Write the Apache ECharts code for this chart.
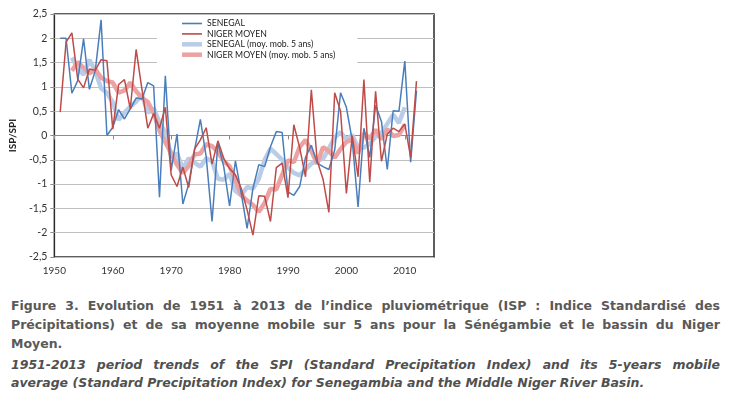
<!DOCTYPE html>
<html>
<head>
<meta charset="utf-8">
<script src="https://cdn.jsdelivr.net/npm/echarts@6/dist/echarts.min.js"></script>
<style>
  html, body { margin: 0; padding: 0; background: #fff; }
  #wrap { position: relative; width: 744px; height: 398px; overflow: hidden; }
  #chart { position: absolute; left: 0; top: 0; width: 744px; height: 290px; }
  .cap { position: absolute; left: 11px; width: 709px; font-size: 12.5px; line-height: 15px; color: #595959;
         font-family: "DejaVu Sans", sans-serif; font-weight: bold;
         text-align: justify; text-align-last: justify; white-space: nowrap; }
  .i { font-style: italic; color: #505050; }
  .last { text-align-last: left; }
</style>
</head>
<body>
<div id="wrap">
  <div id="chart"></div>
  <div class="cap" style="top:298px">Figure 3. Evolution de 1951 à 2013 de l’indice pluviométrique (ISP : Indice Standardisé des</div>
  <div class="cap" style="top:317px">Précipitations) et de sa moyenne mobile sur 5 ans pour la Sénégambie et le bassin du Niger</div>
  <div class="cap last" style="top:336px">Moyen.</div>
  <div class="cap i" style="top:357px">1951-2013 period trends of the SPI (Standard Precipitation Index) and its 5-years mobile</div>
  <div class="cap i last" style="top:375px">average (Standard Precipitation Index) for Senegambia and the Middle Niger River Basin.</div>
</div>
<script>
// ---- data ----
const years = [1951,1952,1953,1954,1955,1956,1957,1958,1959,1960,1961,1962,1963,1964,1965,1966,1967,1968,1969,1970,
  1971,1972,1973,1974,1975,1976,1977,1978,1979,1980,1981,1982,1983,1984,1985,1986,1987,1988,1989,1990,
  1991,1992,1993,1994,1995,1996,1997,1998,1999,2000,2001,2002,2003,2004,2005,2006,2007,2008,2009,2010,2011,2012];
const senegal = [2.00,2.00,0.87,1.13,1.99,0.95,1.33,2.38,0.00,0.17,0.53,0.34,0.55,0.77,0.75,1.09,1.02,-1.27,1.23,-0.72,
  0.03,-1.41,-1.00,-0.30,0.33,-0.44,-1.77,-0.15,-0.64,-1.45,-0.52,-1.19,-1.91,-1.09,-0.60,-0.64,-0.23,0.08,0.06,-1.16,
  -1.23,-1.05,-0.45,-0.20,-0.57,-0.64,-0.70,-0.30,0.88,0.58,-0.10,-1.47,0.15,-0.45,0.62,0.29,-0.70,0.51,0.50,1.53,-0.55,0.92];
const niger = [0.48,1.92,2.11,1.16,0.98,1.37,1.34,1.56,1.54,0.13,1.05,1.15,0.55,1.77,0.95,0.15,0.45,0.15,0.58,-0.81,
  -1.05,-0.65,-1.07,-0.28,-0.09,0.16,-0.59,-0.11,-0.47,-0.68,-0.81,-1.09,-1.53,-2.05,-1.24,-1.25,-1.77,-0.66,-0.57,-1.28,
  0.22,-0.25,-0.85,0.94,-0.52,-0.90,-1.58,0.88,0.50,-1.19,0.00,-0.85,1.15,-0.96,0.91,-0.53,0.03,0.15,0.08,0.24,-0.45,1.12];
const maYears = [1953,1954,1955,1956,1957,1958,1959,1960,1961,1962,1963,1964,1965,1966,1967,1968,1969,1970,
  1971,1972,1973,1974,1975,1976,1977,1978,1979,1980,1981,1982,1983,1984,1985,1986,1987,1988,1989,1990,
  1991,1992,1993,1994,1995,1996,1997,1998,1999,2000,2001,2002,2003,2004,2005,2006,2007,2008,2009,2010];
const senegalMA = [1.60,1.39,1.25,1.56,1.33,0.97,0.88,0.68,0.32,0.47,0.59,0.70,0.84,0.47,0.56,0.27,0.06,-0.43,
  -0.37,-0.68,-0.47,-0.56,-0.64,-0.47,-0.53,-0.89,-0.91,-0.79,-1.14,-1.23,-1.06,-1.09,-0.89,-0.50,-0.27,-0.38,-0.50,-0.66,
  -0.77,-0.82,-0.70,-0.58,-0.51,-0.48,-0.27,-0.04,0.07,-0.08,0.01,-0.26,-0.25,-0.17,-0.02,0.05,0.24,0.43,0.26,0.58];
const nigerMA = [1.33,1.51,1.39,1.28,1.36,1.19,1.12,1.09,0.88,0.93,1.09,0.91,0.77,0.69,0.46,0.10,-0.14,-0.36,
  -0.60,-0.77,-0.63,-0.39,-0.37,-0.18,-0.22,-0.34,-0.53,-0.63,-0.92,-1.23,-1.34,-1.43,-1.57,-1.39,-1.10,-1.11,-0.81,-0.51,
  -0.55,-0.24,-0.09,-0.32,-0.58,-0.24,-0.32,-0.46,-0.28,-0.13,-0.08,-0.37,0.05,-0.06,0.12,-0.08,0.13,-0.01,0.01,0.23];
const seriesNames = ['SENEGAL','NIGER MOYEN','SENEGAL (moy. mob. 5 ans)','NIGER MOYEN (moy. mob. 5 ans)'];
const yTicks = [-2.5,-2,-1.5,-1,-0.5,0,0.5,1,1.5,2,2.5];
const xTicks = [1950,1960,1970,1980,1990,2000,2010];

const pairs = (xs, ys) => xs.map((x, i) => [x, ys[i]]);
const chart = echarts.init(document.getElementById('chart'), null, {renderer: 'canvas'});
const fontLbl = 'Lato, "Liberation Sans", sans-serif';
const thinIcon = 'path://M0,0h20v1.6h-20z';
const thickIcon = 'path://M0,0h20v4.5h-20z';

chart.setOption({
  animation: false,
  backgroundColor: '#fff',
  grid: { left: 40, right: 310, top: 14, bottom: 33, show: true, borderColor: '#2a2a2a', borderWidth: 1.5, backgroundColor: 'transparent' },
  legend: {
    orient: 'vertical', left: 157, top: 18,
    backgroundColor: '#fff', padding: [1, 22, 4, 25],
    itemWidth: 20, itemHeight: 10, itemGap: 1.4, symbolKeepAspect: true,
    textStyle: { fontFamily: fontLbl, fontSize: 8.7, color: '#222' },
    data: [
      { name: seriesNames[0], icon: thinIcon },
      { name: seriesNames[1], icon: thinIcon },
      { name: seriesNames[2], icon: thickIcon },
      { name: seriesNames[3], icon: thickIcon }
    ]
  },
  xAxis: [{
    type: 'value', min: 1950, max: 2015, interval: 10, position: 'bottom',
    axisLine: { show: false, onZero: false }, axisTick: { show: false }, splitLine: { show: false },
    axisLabel: { margin: 9, fontFamily: fontLbl, fontSize: 10, color: '#333',
      formatter: v => (xTicks.indexOf(v) >= 0 ? String(v) : '') }
  }, {
    type: 'value', min: 1950, max: 2015, interval: 10, position: 'bottom',
    axisLine: { show: true, onZero: true, lineStyle: { color: '#8c8c8c', width: 1 } },
    axisTick: { show: true, length: 4, lineStyle: { color: '#8c8c8c' } },
    axisLabel: { show: false }, splitLine: { show: false }
  }],
  yAxis: {
    type: 'value', min: -2.5, max: 2.5, interval: 0.5,
    name: 'ISP/SPI', nameLocation: 'middle', nameGap: 29,
    nameTextStyle: { fontFamily: fontLbl, fontSize: 10, fontWeight: 'bold', color: '#222' },
    axisLine: { show: false },
    axisTick: { show: true, length: 4, lineStyle: { color: '#8c8c8c' } },
    axisLabel: { margin: 7, fontFamily: fontLbl, fontSize: 10.5, color: '#333',
      formatter: v => (yTicks.indexOf(v) >= 0 ? String(v).replace('.', ',') : '') },
    splitLine: { show: true, lineStyle: { color: '#bfbfbf', width: 1 } }
  },
  series: [
    { name: seriesNames[0], type: 'line', xAxisIndex: 0, data: pairs(years, senegal), symbol: 'none',
      lineStyle: { color: '#4a7ebb', width: 1.5 }, itemStyle: { color: '#4a7ebb' }, z: 4 },
    { name: seriesNames[1], type: 'line', xAxisIndex: 0, data: pairs(years, niger), symbol: 'none',
      lineStyle: { color: '#be4b48', width: 1.5 }, itemStyle: { color: '#be4b48' }, z: 4 },
    { name: seriesNames[2], type: 'line', xAxisIndex: 0, data: pairs(maYears, senegalMA), symbol: 'none',
      lineStyle: { color: '#b9cde8', width: 4.5 }, itemStyle: { color: '#b9cde8' }, z: 3 },
    { name: seriesNames[3], type: 'line', xAxisIndex: 0, data: pairs(maYears, nigerMA), symbol: 'none',
      lineStyle: { color: '#eaa3a2', width: 4.5 }, itemStyle: { color: '#eaa3a2' }, z: 3 }
  ]
});
</script>
</body>
</html>
